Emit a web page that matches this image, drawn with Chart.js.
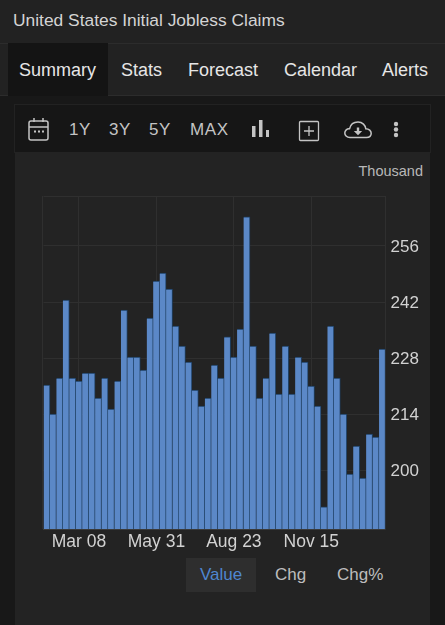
<!DOCTYPE html>
<html>
<head>
<meta charset="utf-8">
<title>United States Initial Jobless Claims</title>
<script src="https://cdn.jsdelivr.net/npm/chart.js@4"></script>
<style>
html,body{margin:0;padding:0;background:#222;width:445px;height:625px;overflow:hidden;font-family:"Liberation Sans",Arial,sans-serif;color:#ddd}
.abs{position:absolute;white-space:nowrap;line-height:20px}
#strip{position:absolute;left:0;top:95px;width:445px;height:530px;background:#181818}
#tabs{position:absolute;left:0;top:43px;width:445px;height:51px;background:#222;border-top:1px solid #2c2c2c;border-bottom:1px solid #2c2c2c}
#tabActive{position:absolute;left:8px;top:43px;width:100px;height:53px;background:#141414}
#toolbar{position:absolute;left:14px;top:104px;width:415px;height:47px;background:#161616;border:1px solid #222}
#panel{position:absolute;left:15px;top:152px;width:415px;height:473px;background:#232323}
#grafico{position:absolute;left:14px;top:180px}
#btnValue{position:absolute;left:186px;top:558px;width:70px;height:34px;background:#2e2e2e}
svg{position:absolute;overflow:visible}
.tab{font-size:18px;color:#e6e6e6;top:60px}
.tool{font-size:17px;color:#c4c4c4;top:120px;letter-spacing:.6px}
.modo{font-size:17px;color:#bdbdbd;top:565px}
</style>
</head>
<body>
<div id="strip"></div>
<div id="tabs"></div>
<div id="tabActive"></div>
<div id="toolbar"></div>
<div id="panel"></div>
<div id="btnValue"></div>

<div class="abs" style="left:13px;top:10px;font-size:17.4px;color:#d4d4d4">United States Initial Jobless Claims</div>

<div class="abs tab" style="left:19px">Summary</div>
<div class="abs tab" style="left:121px">Stats</div>
<div class="abs tab" style="left:188px">Forecast</div>
<div class="abs tab" style="left:284px">Calendar</div>
<div class="abs tab" style="left:382px">Alerts</div>

<svg style="left:28px;top:118px" width="21" height="24" fill="none" stroke="#c4c4c4" stroke-width="1.5">
  <rect x="1" y="3" width="19" height="19" rx="2"/>
  <path d="M1 9H20M6 0V4M15 0V4"/>
  <path d="M6 13.5H8M10 13.5H12M14 13.5H16" stroke-width="1.8"/>
</svg>
<div class="abs tool" style="left:69px">1Y</div>
<div class="abs tool" style="left:109px">3Y</div>
<div class="abs tool" style="left:149px">5Y</div>
<div class="abs tool" style="left:190px">MAX</div>
<svg style="left:252px;top:120px" width="17" height="18" fill="#c4c4c4">
  <rect x="0" y="6" width="3.5" height="11"/>
  <rect x="7" y="0" width="3.5" height="17"/>
  <rect x="14" y="10" width="3" height="7"/>
</svg>
<svg style="left:299px;top:121px" width="20" height="20" fill="none" stroke="#c4c4c4" stroke-width="1.3">
  <rect x=".5" y=".5" width="19" height="19" rx="1"/>
  <path d="M10 5V15M5 10H15"/>
</svg>
<svg style="left:344px;top:121px" width="28" height="18" fill="none" stroke="#c4c4c4" stroke-width="1.5">
  <path d="M6 16.5C2.500 16.500 .8 14 .8 12C.8 9.500 3 7.500 5.500 7.800C6.500 3.500 10 1 14 1C18.500 1 21.500 4.500 21.800 7.800C25 7.800 27.200 10 27.200 12.300C27.200 15 25 16.500 22.500 16.500Z"/>
  <path d="M14 6.500V10.500" stroke-width="2.400"/>
  <path d="M9.800 10H18.200L14 14.200Z" fill="#c4c4c4" stroke="none"/>
</svg>
<svg style="left:393px;top:121px" width="6" height="17" fill="#c4c4c4">
  <circle cx="3" cy="3" r="2.200"/>
  <circle cx="3" cy="8.500" r="2.200"/>
  <circle cx="3" cy="14" r="2.200"/>
</svg>

<div class="abs" style="right:22px;top:161px;font-size:14.5px;color:#b8b8b8">Thousand</div>

<canvas id="grafico" width="416" height="380" style="width:416px;height:380px"></canvas>

<div class="abs modo" style="left:200px;color:#4f86cf">Value</div>
<div class="abs modo" style="left:275px">Chg</div>
<div class="abs modo" style="left:337px">Chg%</div>

<script>
const categorias = [
    "Feb 02","Feb 09","Feb 16","Feb 23","Mar 01","Mar 08","Mar 15","Mar 22","Mar 29",
    "Apr 05","Apr 12","Apr 19","Apr 26","May 03","May 10","May 17","May 24","May 31",
    "Jun 07","Jun 14","Jun 21","Jun 28","Jul 05","Jul 12","Jul 19","Jul 26",
    "Aug 02","Aug 09","Aug 16","Aug 23","Aug 30","Sep 06","Sep 13","Sep 20","Sep 27",
    "Oct 04","Oct 11","Oct 18","Oct 25","Nov 01","Nov 08","Nov 15","Nov 22","Nov 29",
    "Dec 06","Dec 13","Dec 20","Dec 27","Jan 03","Jan 10","Jan 17","Jan 24","Jan 31"
]
const valores = [
    221.2,214,223,242.5,223,222.2,224.2,224.2,218,223,215.2,222.2,240,
    228.2,228.2,225,238,247.2,249.2,245.2,236,231,227,220,216,218,
    226.2,223,233.3,228.2,235.2,263.3,231,218,223,234.2,219,231,219,
    228.2,227,221,216,190.8,236,223,214,199,206,198,209,208.2,230.2
]
const ticksY = [200, 214, 228, 242, 256]
const ticksX = ["Mar 08", "May 31", "Aug 23", "Nov 15"]
const minY = 185.25
const maxY = 268.5

const corGrade = "#2f2f2f"

function larguraFixa(valor, campo){
    return function(escala){
        escala[campo] = valor
    }
}

new Chart(document.getElementById("grafico"), {
    type: "bar",
    data: {
        labels: categorias,
        datasets: [{
            label: "Initial Jobless Claims",
            data: valores,
            backgroundColor: "#5b88c7",
            borderColor: "#1e3f62",
            borderWidth: { top: 1, right: 1, left: 0, bottom: 0 },
            borderSkipped: false,
            barPercentage: 1,
            categoryPercentage: 1
        }]
    },
    options: {
        responsive: false,
        animation: false,
        layout: { padding: { left: 29.5, top: 16, right: 0, bottom: 0 } },
        plugins: { legend: { display: false }, tooltip: { enabled: false } },
        scales: {
            x: {
                offset: true,
                afterFit: larguraFixa(31, "height"),
                border: { color: "#3a3a3a" },
                grid: {
                    color: ctx => ticksX.includes(categorias[ctx.index]) ? corGrade : "transparent",
                    offset: false,
                    drawTicks: false
                },
                ticks: {
                    autoSkip: false,
                    maxRotation: 0,
                    padding: 3,
                    color: "#d2d2d2",
                    font: { family: "Liberation Sans", size: 17.5 },
                    callback: function(valor){
                        const nome = this.getLabelForValue(valor)
                        return ticksX.includes(nome) ? nome : ""
                    }
                }
            },
            y: {
                position: "right",
                min: minY,
                max: maxY,
                afterFit: larguraFixa(44.5, "width"),
                afterBuildTicks: function(escala){
                    escala.ticks = [minY, ...ticksY, maxY].map(v => ({ value: v }))
                },
                border: { color: corGrade },
                grid: { color: corGrade, drawTicks: false },
                ticks: {
                    padding: 5,
                    labelOffset: 1,
                    color: "#d2d2d2",
                    font: { family: "Liberation Sans", size: 17 },
                    callback: valor => ticksY.includes(valor) ? String(valor) : ""
                }
            }
        }
    },
    plugins: [{
        id: "linhaEsquerda",
        beforeDatasetsDraw: function(chart){
            const { ctx, chartArea } = chart
            ctx.save()
            ctx.strokeStyle = corGrade
            ctx.beginPath()
            ctx.moveTo(chartArea.left - 1, chartArea.top)
            ctx.lineTo(chartArea.left - 1, chartArea.bottom)
            ctx.stroke()
            ctx.restore()
        }
    }]
})
</script>
</body>
</html>
